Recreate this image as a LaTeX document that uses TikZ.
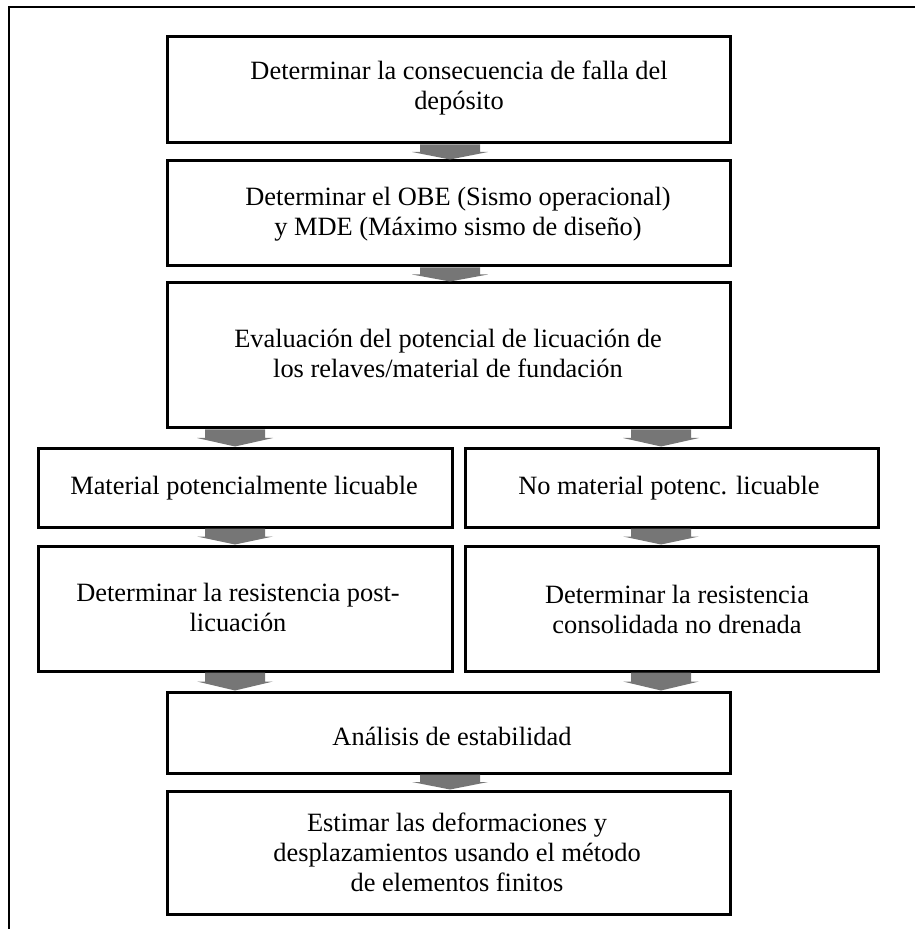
\documentclass[tikz,border=0pt]{standalone}
\usepackage{fontspec}
\setmainfont{Liberation Serif}
\usetikzlibrary{calc}

\tikzset{
  stepbox/.style={draw=black, line width=1.5pt, rectangle, inner sep=0pt},
  steptext/.style={align=center, inner sep=0pt,
    font=\fontsize{13.2pt}{15pt}\selectfont},
  arrowfill/.style={fill={rgb,255:red,118;green,118;blue,118}},
  frameline/.style={draw=black, line width=1.3pt}
}

% squat grey block arrow from a top point (#1) down to a tip (#2)
\newcommand{\flowarrow}[2]{%
  \fill[arrowfill] let \p1=#1, \p2=#2 in
    (\x2-15pt,\y1) -- (\x2+15pt,\y1) -- (\x2+15pt,{(\y1+\y2)/2})
    -- (\x2+19pt,{(\y1+\y2)/2}) -- (\x2,\y2) -- (\x2-19pt,{(\y1+\y2)/2})
    -- (\x2-15pt,{(\y1+\y2)/2}) -- cycle;}

\begin{document}
\begin{tikzpicture}[x=0.5pt, y=-0.5pt]
\useasboundingbox (0,0) rectangle (915,929);

% outer frame (open to the right and bottom)
\draw[frameline] (9,929) -- (9,7) -- (915,7);

% boxes
\node[stepbox, minimum width=281.5pt, minimum height=53pt]   (b1) at (448.5,90) {};
\node[stepbox, minimum width=281.5pt, minimum height=52.5pt] (b2) at (448.5,213.5) {};
\node[stepbox, minimum width=281.5pt, minimum height=72.5pt] (b3) at (448.5,355.5) {};
\node[stepbox, minimum width=207pt,   minimum height=39.5pt] (b4l) at (245,487.5) {};
\node[stepbox, minimum width=206.5pt, minimum height=39.5pt] (b4r) at (671.5,487.5) {};
\node[stepbox, minimum width=207pt,   minimum height=62.5pt] (b5l) at (245,608.5) {};
\node[stepbox, minimum width=206.5pt, minimum height=62.5pt] (b5r) at (671.5,608.5) {};
\node[stepbox, minimum width=281.5pt, minimum height=40.5pt] (b6) at (448.5,732.5) {};
\node[stepbox, minimum width=281.5pt, minimum height=61.5pt] (b7) at (448.5,852.5) {};

% box texts
\node[steptext] (t1)  at (459,88)    {Determinar la consecuencia de falla del\\depósito};
\node[steptext] (t2)  at (458,214.5) {Determinar el OBE (Sismo operacional)\\y MDE (Máximo sismo de diseño)};
\node[steptext] (t3)  at (448,353)   {Evaluación del potencial de licuación de\\los relaves/material de fundación};
\node[steptext] (t4l) at (244,488)   {Material potencialmente licuable};
\node[steptext] (t4r) at (669,488)   {No material potenc. licuable};
\node[steptext] (t5l) at (238,607)   {Determinar la resistencia post-\\licuación};
\node[steptext] (t5r) at (677,609)   {Determinar la resistencia\\consolidada no drenada};
\node[steptext] (t6)  at (452,736)   {Análisis de estabilidad};
\node[steptext] (t7)  at (457,852)   {Estimar las deformaciones y\\desplazamientos usando el método\\de elementos finitos};

% arrow axes
\coordinate (cm) at (450,0);
\coordinate (cl) at (235,0);
\coordinate (cr) at (661,0);

% connectors
\flowarrow{(b1.south -| cm)}{(b2.north -| cm)}
\flowarrow{(b2.south -| cm)}{(b3.north -| cm)}
\flowarrow{(b3.south -| cl)}{(b4l.north -| cl)}
\flowarrow{(b3.south -| cr)}{(b4r.north -| cr)}
\flowarrow{(b4l.south -| cl)}{(b5l.north -| cl)}
\flowarrow{(b4r.south -| cr)}{(b5r.north -| cr)}
\flowarrow{(b5l.south -| cl)}{(b6.north -| cl)}
\flowarrow{(b5r.south -| cr)}{(b6.north -| cr)}
\flowarrow{(b6.south -| cm)}{(b7.north -| cm)}
\end{tikzpicture}
\end{document}
